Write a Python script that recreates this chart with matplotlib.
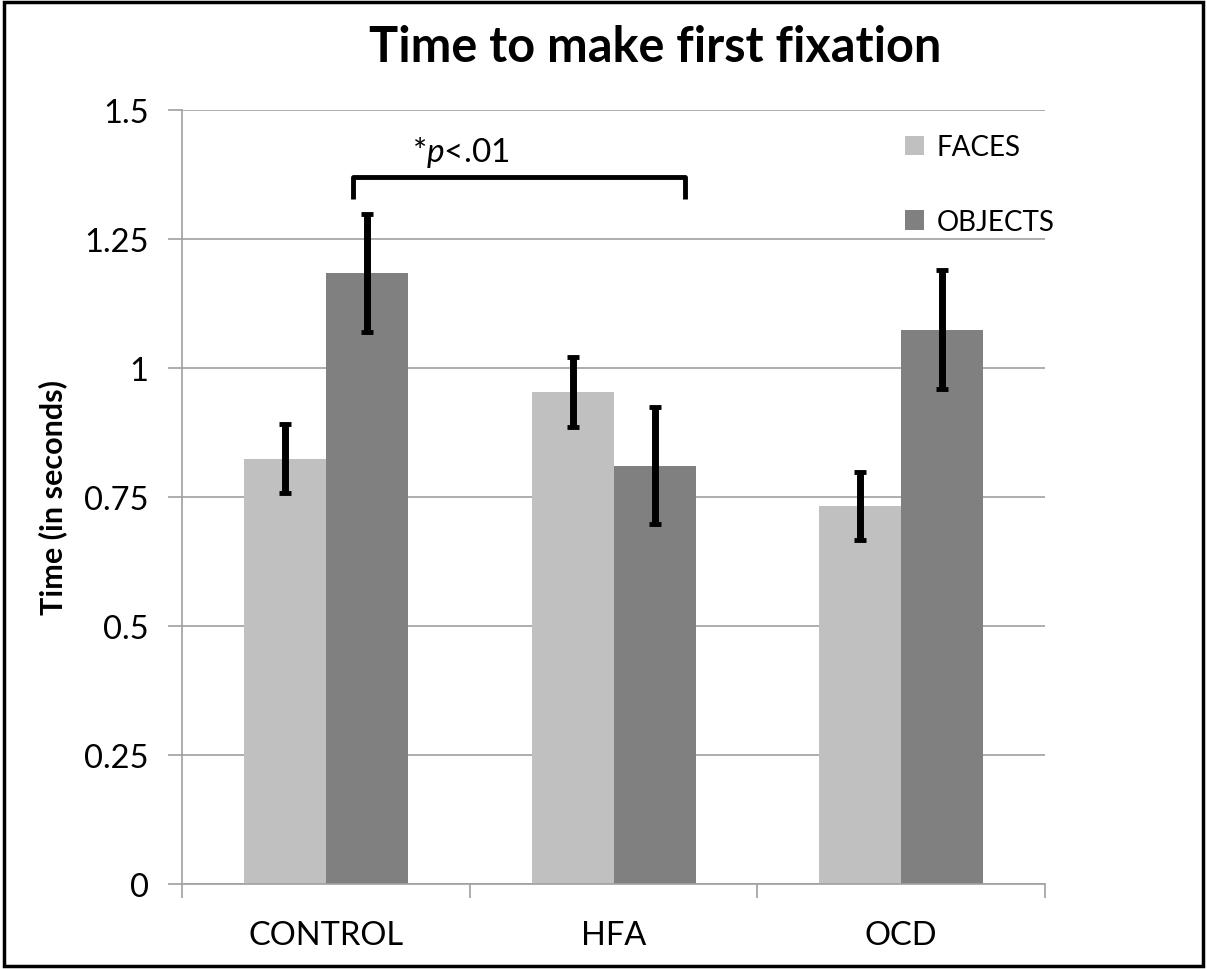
import numpy as np
import matplotlib
matplotlib.use("Agg")
import matplotlib.pyplot as plt
from matplotlib.patches import Patch, Rectangle

groups = ["CONTROL", "HFA", "OCD"]
faces = [0.824, 0.953, 0.733]
objects = [1.184, 0.811, 1.074]
faces_err = [0.067, 0.068, 0.066]
objects_err = [0.115, 0.113, 0.115]
yticks = [0, 0.25, 0.5, 0.75, 1, 1.25, 1.5]
ytick_labels = ["0", "0.25", "0.5", "0.75", "1", "1.25", "1.5"]

plt.rcParams.update({
    "font.family": ["Lato", "DejaVu Sans"],
    "mathtext.fontset": "custom",
    "mathtext.rm": "Lato",
    "mathtext.it": "Lato:italic",
})

face_col = "#C0C0C0"
obj_col = "#808080"
axis_col = "#A0A0A0"

fig = plt.figure(figsize=(12.07, 9.70), dpi=100)
ax = fig.add_axes([0.1508, 0.0876, 0.715, 0.798])

x = np.arange(len(groups))
w = 0.285
ax.bar(x - w / 2, faces, w, color=face_col, zorder=2)
ax.bar(x + w / 2, objects, w, color=obj_col, zorder=2)
ax.errorbar(x - w / 2, faces, yerr=faces_err, fmt="none", ecolor="black",
            elinewidth=5, capsize=4, capthick=3.5, zorder=3)
ax.errorbar(x + w / 2, objects, yerr=objects_err, fmt="none", ecolor="black",
            elinewidth=5, capsize=4, capthick=3.5, zorder=3)

ax.set_xlim(-0.5, 2.5)
ax.set_ylim(0, 1.5)
ax.set_yticks(yticks)
ax.set_yticklabels(ytick_labels)
ax.set_xticks([-0.5, 0.5, 1.5, 2.5])
ax.set_xticklabels([])
ax.set_xticks(x, minor=True)
ax.set_xticklabels(groups, minor=True)
ax.tick_params(axis="x", which="major", length=10, width=1.2, color=axis_col, direction="out")
ax.tick_params(axis="x", which="minor", length=0, labelsize=23.5, pad=26)
ax.tick_params(axis="y", length=10, width=1.2, color=axis_col, labelsize=23.5, pad=14)

ax.yaxis.grid(True, color=axis_col, linewidth=1.2, zorder=0)
ax.set_axisbelow(True)
for s in ["top", "right"]:
    ax.spines[s].set_visible(False)
for s in ["left", "bottom"]:
    ax.spines[s].set_color(axis_col)
    ax.spines[s].set_linewidth(1.2)

ax.set_ylabel("Time (in seconds)", fontsize=22, fontweight="bold", labelpad=12)

# significance bracket between CONTROL objects and HFA objects
bx0, bx1 = 0.095, 1.248
by_top, by_bot = 1.370, 1.328
ax.plot([bx0, bx0, bx1, bx1], [by_bot, by_top, by_top, by_bot], color="black",
        lw=3.5, solid_joinstyle="round", solid_capstyle="butt", zorder=4)
ax.text(0.47, 1.42, "*$p$<.01", fontsize=24, ha="center", va="center")

handles = [Patch(facecolor=face_col, label="FACES"),
           Patch(facecolor=obj_col, label="OBJECTS")]
fig.legend(handles=handles, loc="upper left", bbox_to_anchor=(0.738, 0.875),
           frameon=False, fontsize=20, handlelength=0.7, handleheight=0.7,
           handletextpad=0.45, labelspacing=1.75, borderpad=0)

fig.text(0.5427, 0.9515, "Time to make first fixation", fontsize=35,
         fontweight="bold", ha="center", va="center")

fig.patches.append(Rectangle((0.003, 0.003), 0.994, 0.994, transform=fig.transFigure,
                             fill=False, edgecolor="black", linewidth=2.5))

fig.savefig("out.png", dpi=100)
